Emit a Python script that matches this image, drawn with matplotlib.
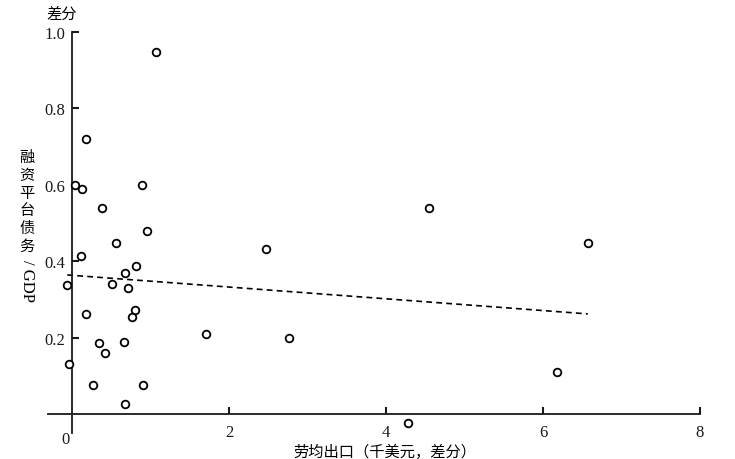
import matplotlib
matplotlib.use('Agg')
import matplotlib.pyplot as plt

plt.rcParams['font.family'] = ['Liberation Serif', 'Noto Sans CJK SC']

# scatter points (x: 劳均出口, y: 融资平台债务/GDP), both as differences
x = [1.07, 0.18, 0.04, 0.13, 0.38, 0.89, 0.96, 0.56, 0.11, 0.82,
     0.67, -0.06, 0.51, 0.72, 0.18, 0.80, 0.77, 1.71, 0.34, 0.66,
     0.42, -0.04, 0.27, 0.91, 0.68, 2.47, 2.76, 4.55, 4.28, 6.18, 6.57]
y = [0.948, 0.720, 0.600, 0.588, 0.540, 0.600, 0.478, 0.448, 0.414, 0.387,
     0.368, 0.338, 0.341, 0.331, 0.262, 0.272, 0.253, 0.209, 0.187, 0.188,
     0.159, 0.132, 0.076, 0.076, 0.027, 0.432, 0.199, 0.539, -0.024, 0.110, 0.448]

# fitted trend line
trend_x = [-0.06, 6.57]
trend_y = [0.364, 0.262]

xticks = [2, 4, 6, 8]
yticks = [0.2, 0.4, 0.6, 0.8, 1.0]
ytick_labels = ['0.2', '0.4', '0.6', '0.8', '1.0']

cjk = ['Noto Sans CJK SC', 'DejaVu Sans']

fig = plt.figure(figsize=(7.35, 4.6), dpi=100)
ax = fig.add_axes([0.0552, 0.048, 0.9079, 0.9135])
ax.set_xlim(-0.4, 8.1)
ax.set_ylim(-0.06, 1.04)

ax.plot(x, y, 'o', mfc='white', mec='black', ms=5.5, mew=1.3, ls='none', zorder=3)
ax.plot(trend_x, trend_y, color='black', lw=1.2, ls=(0, (3.5, 2.5)))

for s in ['top', 'right']:
    ax.spines[s].set_visible(False)
ax.spines['left'].set_position(('data', 0))
ax.spines['left'].set_bounds(-0.05, 1.0)
ax.spines['bottom'].set_position(('data', 0))
ax.spines['bottom'].set_bounds(-0.3, 8.0)
for s in ['left', 'bottom']:
    ax.spines[s].set_linewidth(1.3)
    ax.spines[s].set_color('#1a1a1a')

ax.set_xticks(xticks)
ax.set_xticklabels([str(t) for t in xticks])
ax.set_yticks(yticks)
ax.set_yticklabels(ytick_labels)
ax.tick_params(direction='in', length=5, width=1.5, labelsize=12, colors='#1a1a1a')
ax.tick_params(axis='x', pad=7)
ax.tick_params(axis='y', pad=5)

ax.text(-0.08, -0.045, '0', ha='center', va='top', fontsize=12, color='#1a1a1a')

fig.text(62 / 735, 1 - 14 / 460, '差分', ha='center', va='center', fontsize=11, family=cjk)
fig.text(385 / 735, 1 - 452 / 460, '劳均出口（千美元，差分）', ha='center', va='center',
         fontsize=11, family=cjk)
fig.text(27 / 735, 1 - 202 / 460, '\n'.join('融资平台债务'), ha='center', va='center',
         fontsize=11, linespacing=1.05, family=cjk)
fig.text(27 / 735, 1 - 281 / 460, '/ GDP', ha='center', va='center', rotation=-90,
         fontsize=12)

fig.savefig('out.png', dpi=100)
